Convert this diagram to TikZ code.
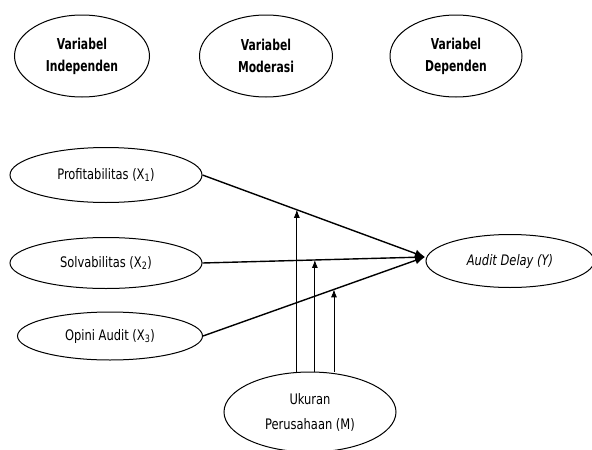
\documentclass[tikz,border=0pt]{standalone}
\usepackage{fontspec}
\setmainfont{DejaVu Sans Condensed}[FakeStretch=0.88]
\newfontfamily\hfont{DejaVu Sans Condensed}[FakeStretch=0.8]
\usetikzlibrary{shapes.geometric,arrows.meta,calc}
\begin{document}
\begin{tikzpicture}[x=1pt,y=-1pt,
  var/.style={ellipse,draw,line width=1pt,inner sep=0pt,align=center,
    font=\fontsize{14.5}{25}\selectfont},
  head/.style={ellipse,draw,line width=1pt,inner sep=0pt,align=center,
    font=\hfont\bfseries\fontsize{15}{22}\selectfont},
  link/.style={line width=1.4pt,-{Latex[length=10pt,width=8pt]}},
  modl/.style={line width=0.8pt,-{Latex[length=8pt,width=6pt]}}]
\useasboundingbox (0,0) rectangle (592,450);
% header ellipses
\node[head,minimum width=135pt,minimum height=82pt] (hi) at (82,56) {Variabel\\Independen};
\node[head,minimum width=133pt,minimum height=82pt] (hm) at (266,56) {Variabel\\Moderasi};
\node[head,minimum width=132pt,minimum height=82pt] (hd) at (456,56) {Variabel\\Dependen};
% variables
\node[var,minimum width=192pt,minimum height=55pt] (p) at (106,175) {Profitabilitas (X\textsubscript{1})};
\node[var,minimum width=192pt,minimum height=51pt] (s) at (106,263) {Solvabilitas (X\textsubscript{2})};
\node[var,minimum width=185pt,minimum height=48pt] (o) at (110,336) {Opini Audit (X\textsubscript{3})};
\node[var,minimum width=168pt,minimum height=53pt] (y) at (510,261) {\itshape Audit Delay (Y)};
\node[var,minimum width=172pt,minimum height=80pt] (m) at (310,412) {Ukuran\\Perusahaan (M)};
% convergence point
\coordinate (tip) at (425,257);
\draw[link] (p.east) -- (tip);
\draw[link] (s.east) -- (tip);
\draw[link] (o.east) -- (tip);
% moderation points
\coordinate (m1) at ($(p.east)!0.424!(tip)$);
\coordinate (m2) at ($(s.east)!0.505!(tip)$);
\coordinate (m3) at ($(o.east)!0.59!(tip)$);
\draw[modl] (m.north -| m1) -- (m1);
\draw[modl] (m.north -| m2) -- (m2);
\draw[modl] (m.north -| m3) -- (m3);
\end{tikzpicture}
\end{document}
